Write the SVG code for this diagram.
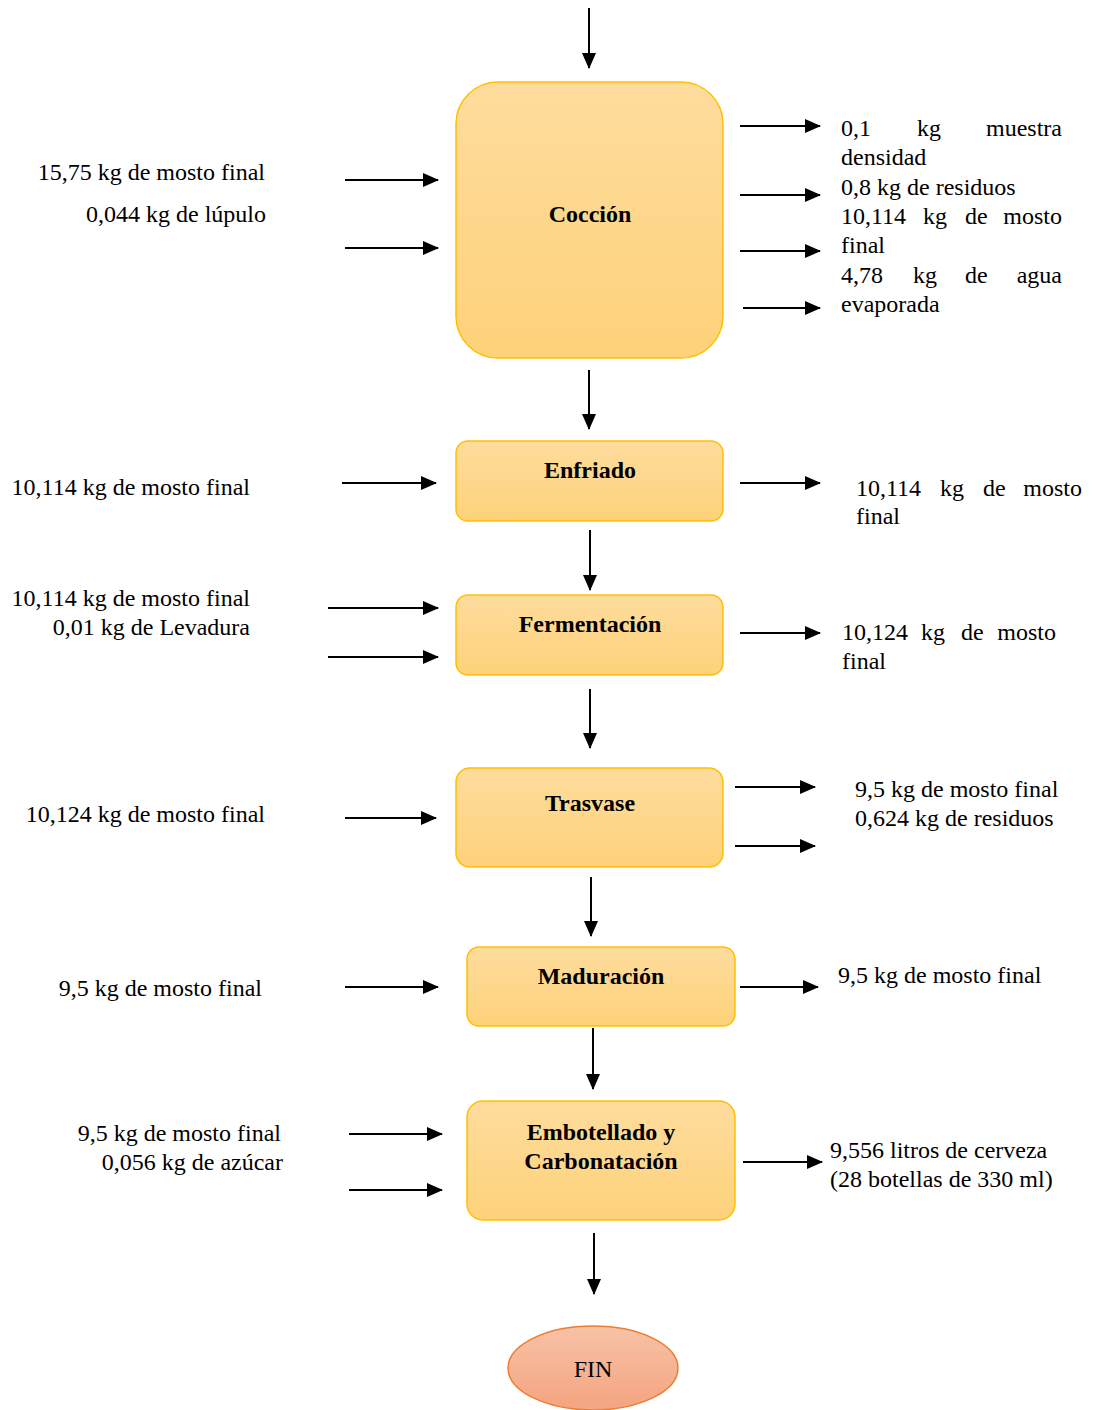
<svg xmlns="http://www.w3.org/2000/svg" width="1093" height="1410" viewBox="0 0 1093 1410">
<defs>
<linearGradient id="gBox" x1="0" y1="0" x2="0" y2="1"><stop offset="0" stop-color="#fedc9d"/><stop offset="1" stop-color="#fdd27a"/></linearGradient>
<linearGradient id="gFin" x1="0" y1="0" x2="0" y2="1"><stop offset="0" stop-color="#f8c2a6"/><stop offset="1" stop-color="#f4a480"/></linearGradient>
<marker id="ah" markerUnits="userSpaceOnUse" markerWidth="16" markerHeight="14" refX="15" refY="7" orient="auto"><path d="M0,0 L16,7 L0,14 z" fill="#000"/></marker>
</defs>
<style>
.box{fill:url(#gBox);stroke:#ffc000;stroke-width:1.5}
.t{font-family:"Liberation Serif","Times New Roman",serif;font-size:24px;fill:#000}
.b{font-family:"Liberation Serif","Times New Roman",serif;font-size:24px;font-weight:bold;fill:#000;text-anchor:middle}
.e{text-anchor:end}
.c line{stroke:#000;stroke-width:2;marker-end:url(#ah)}
</style>
<rect width="1093" height="1410" fill="#fff"/>
<g class="c" id="connectors">
<line x1="589" y1="8" x2="589" y2="68"/>
<line x1="589" y1="370" x2="589" y2="429"/>
<line x1="590" y1="530" x2="590" y2="590"/>
<line x1="590" y1="689" x2="590" y2="748"/>
<line x1="591" y1="877" x2="591" y2="936"/>
<line x1="593" y1="1028" x2="593" y2="1089"/>
<line x1="594" y1="1233" x2="594" y2="1294"/>
<line x1="345" y1="180" x2="438" y2="180"/>
<line x1="345" y1="248" x2="438" y2="248"/>
<line x1="342" y1="483" x2="436" y2="483"/>
<line x1="328" y1="608" x2="438" y2="608"/>
<line x1="328" y1="657" x2="438" y2="657"/>
<line x1="345" y1="818" x2="436" y2="818"/>
<line x1="345" y1="987" x2="438" y2="987"/>
<line x1="349" y1="1134" x2="442" y2="1134"/>
<line x1="349" y1="1190" x2="442" y2="1190"/>
<line x1="740" y1="126" x2="820" y2="126"/>
<line x1="740" y1="195" x2="820" y2="195"/>
<line x1="740" y1="251" x2="820" y2="251"/>
<line x1="743" y1="308" x2="820" y2="308"/>
<line x1="740" y1="483" x2="820" y2="483"/>
<line x1="740" y1="633" x2="820" y2="633"/>
<line x1="735" y1="787" x2="815" y2="787"/>
<line x1="735" y1="846" x2="815" y2="846"/>
<line x1="740" y1="987" x2="818" y2="987"/>
<line x1="743" y1="1162" x2="822" y2="1162"/>
</g>
<g id="coccion"><rect class="box" x="456" y="82" width="267" height="276" rx="42"/><text class="b" x="590" y="222">Cocción</text></g>
<g id="enfriado"><rect class="box" x="456" y="441" width="267" height="80" rx="12"/><text class="b" x="590" y="478">Enfriado</text></g>
<g id="fermentacion"><rect class="box" x="456" y="595" width="267" height="80" rx="12"/><text class="b" x="590" y="632">Fermentación</text></g>
<g id="trasvase"><rect class="box" x="456" y="768" width="267" height="99" rx="14"/><text class="b" x="590" y="811">Trasvase</text></g>
<g id="maduracion"><rect class="box" x="467" y="947" width="268" height="79" rx="12"/><text class="b" x="601" y="984">Maduración</text></g>
<g id="embotellado"><rect class="box" x="467" y="1101" width="268" height="119" rx="16"/><text class="b" x="601" y="1140">Embotellado y</text><text class="b" x="601" y="1169">Carbonatación</text></g>
<g id="fin"><ellipse cx="593" cy="1368" rx="85" ry="42" fill="url(#gFin)" stroke="#ed7d31" stroke-width="1.5"/><text class="t" x="593" y="1377" text-anchor="middle">FIN</text></g>
<g id="labels-left">
<text class="t e" x="265" y="180">15,75 kg de mosto final</text>
<text class="t e" x="266" y="222">0,044 kg de lúpulo</text>
<text class="t e" x="250" y="495">10,114 kg de mosto final</text>
<text class="t e" x="250" y="606">10,114 kg de mosto final</text>
<text class="t e" x="250" y="635">0,01 kg de Levadura</text>
<text class="t e" x="265" y="822">10,124 kg de mosto final</text>
<text class="t e" x="262" y="996">9,5 kg de mosto final</text>
<text class="t e" x="281" y="1141">9,5 kg de mosto final</text>
<text class="t e" x="283" y="1170">0,056 kg de azúcar</text>
</g>
<g id="labels-right">
<text class="t" x="841" y="136">0,1</text><text class="t" x="917" y="136">kg</text><text class="t e" x="1062" y="136">muestra</text>
<text class="t" x="841" y="165">densidad</text>
<text class="t" x="841" y="195">0,8 kg de residuos</text>
<text class="t" x="841" y="224">10,114</text><text class="t" x="923" y="224">kg</text><text class="t" x="965" y="224">de</text><text class="t e" x="1062" y="224">mosto</text>
<text class="t" x="841" y="253">final</text>
<text class="t" x="841" y="283">4,78</text><text class="t" x="913" y="283">kg</text><text class="t" x="965" y="283">de</text><text class="t e" x="1062" y="283">agua</text>
<text class="t" x="841" y="312">evaporada</text>
<text class="t" x="856" y="496">10,114</text><text class="t" x="940" y="496">kg</text><text class="t" x="983" y="496">de</text><text class="t e" x="1082" y="496">mosto</text>
<text class="t" x="856" y="524">final</text>
<text class="t" x="842" y="640">10,124</text><text class="t" x="921" y="640">kg</text><text class="t" x="961" y="640">de</text><text class="t e" x="1056" y="640">mosto</text>
<text class="t" x="842" y="669">final</text>
<text class="t" x="855" y="797">9,5 kg de mosto final</text>
<text class="t" x="855" y="826">0,624 kg de residuos</text>
<text class="t" x="838" y="983">9,5 kg de mosto final</text>
<text class="t" x="830" y="1158">9,556 litros de cerveza</text>
<text class="t" x="830" y="1187">(28 botellas de 330 ml)</text>
</g>
</svg>
